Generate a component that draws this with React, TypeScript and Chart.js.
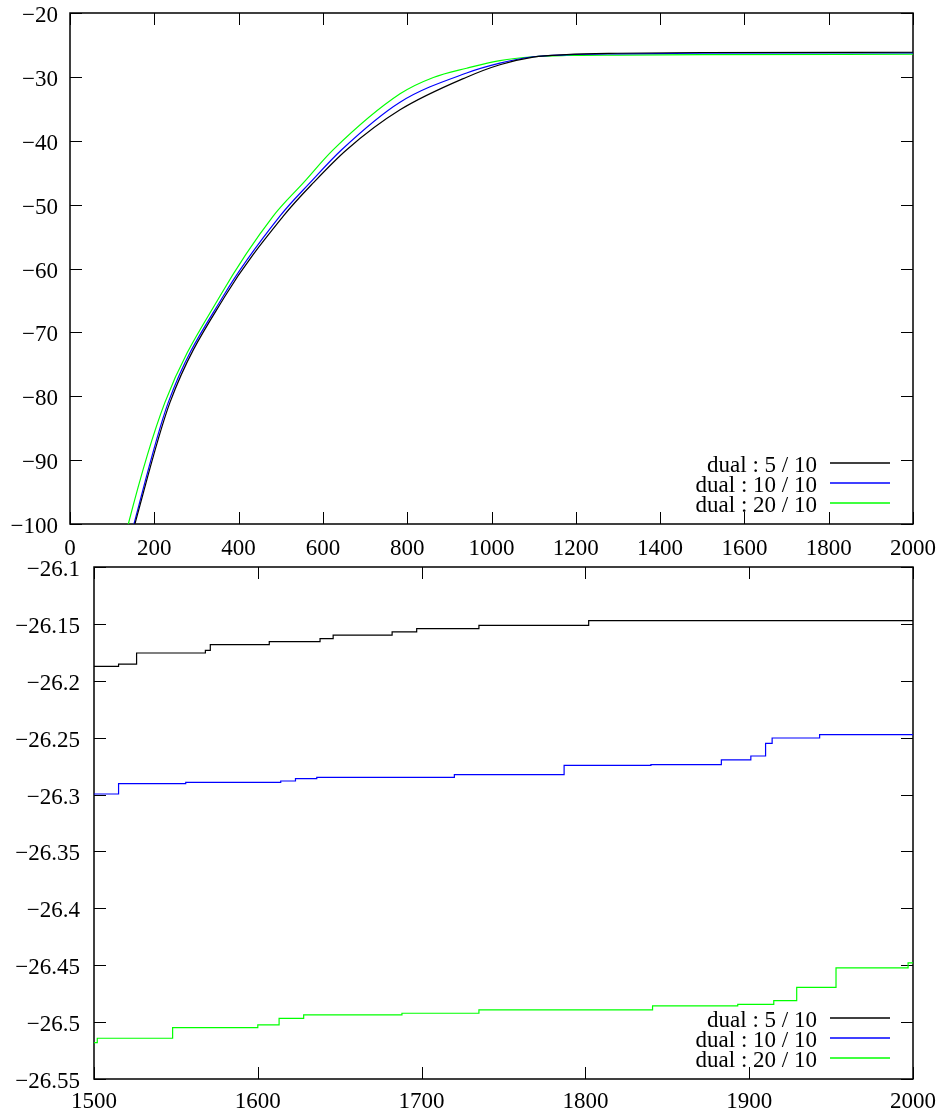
import { useEffect, useRef } from "react";
import { Chart, registerables } from "chart.js";

Chart.register(...registerables);

const FONT_FAMILY = "'Liberation Serif', 'Times New Roman', serif";
const FONT_SIZE = 23;

const seriesLabels = ["dual : 5 / 10", "dual : 10 / 10", "dual : 20 / 10"];
const seriesColors = ["#000000", "#0000ff", "#00ff00"];

// Full run (iterations 0..2000)
const fullX5 = [150, 154, 237, 368, 506, 577, 656.5, 783, 941, 1020, 1099, 1178, 1300, 1500, 2000];
const fullY5 = [-101, -100, -81.0, -64.3, -51.8, -46.6, -41.4, -35.16, -30.05, -28.1, -26.9, -26.5, -26.3, -26.187, -26.147];

const fullX10 = [148, 151.8, 233, 363.8, 498, 569, 644.5, 783, 941, 1020, 1099, 1178, 1300, 1500, 2000];
const fullY10 = [-101, -100, -81.0, -64.3, -51.8, -46.6, -41.4, -33.96, -29.4, -27.86, -26.85, -26.55, -26.4, -26.3, -26.247];

const fullX20 = [135, 138.4, 225, 356, 482, 553.5, 624.7, 783, 862, 941, 1020, 1099, 1178, 1300, 1500, 2000];
const fullY20 = [-101, -100, -81.0, -64.3, -51.8, -46.6, -41.4, -32.66, -30.1, -28.65, -27.45, -26.85, -26.65, -26.58, -26.518, -26.448];

// Tail of the run (iterations 1500..2000), value changes at each x
const tailX5 = [1500, 1515, 1526, 1568, 1571, 1607, 1638, 1646, 1682, 1697, 1735, 1802, 2000];
const tailY5 = [-26.1873, -26.1853, -26.1756, -26.1732, -26.1683, -26.1656, -26.163, -26.1598, -26.1571, -26.1542, -26.1513, -26.1472, -26.1472];

const tailX10 = [1500, 1515, 1556, 1614, 1623, 1636, 1720, 1787, 1840, 1883, 1901, 1910, 1914, 1943, 2000];
const tailY10 = [-26.2995, -26.2904, -26.2893, -26.2881, -26.286, -26.2849, -26.2825, -26.2743, -26.2737, -26.2696, -26.2661, -26.255, -26.2503, -26.2474, -26.2474];

const tailX20 = [1500, 1502, 1548, 1600, 1613, 1628, 1688, 1735, 1841, 1893, 1915, 1929, 1953, 1997, 2000];
const tailY20 = [-26.5181, -26.5142, -26.5049, -26.5025, -26.4967, -26.4937, -26.4922, -26.4892, -26.4858, -26.4844, -26.4812, -26.4694, -26.4524, -26.448, -26.448];

const fullXTicks = [0, 200, 400, 600, 800, 1000, 1200, 1400, 1600, 1800, 2000];
const fullYTicks = [-100, -90, -80, -70, -60, -50, -40, -30, -20];
const tailXTicks = [1500, 1600, 1700, 1800, 1900, 2000];
const tailYTicks = [-26.55, -26.5, -26.45, -26.4, -26.35, -26.3, -26.25, -26.2, -26.15, -26.1];

const TICK_LEN = 12;

const fmt = (v: number) => String(Number(v.toFixed(2))).replace("-", "\u2212");

const pairs = (xs: number[], ys: number[]) => xs.map((x, i) => ({ x, y: ys[i] }));

const framePlugin = {
  id: "gnuFrame",
  beforeDatasetsDraw(chart: any) {
    const { ctx, chartArea: a, scales } = chart;
    ctx.save();
    ctx.strokeStyle = "#000";
    ctx.lineWidth = 1;
    ctx.beginPath();
    for (const t of scales.x.ticks) {
      const px = Math.round(scales.x.getPixelForValue(t.value)) + 0.5;
      ctx.moveTo(px, a.bottom);
      ctx.lineTo(px, a.bottom - TICK_LEN);
      ctx.moveTo(px, a.top);
      ctx.lineTo(px, a.top + TICK_LEN);
    }
    for (const t of scales.y.ticks) {
      const py = Math.round(scales.y.getPixelForValue(t.value)) + 0.5;
      ctx.moveTo(a.left, py);
      ctx.lineTo(a.left + TICK_LEN, py);
      ctx.moveTo(a.right, py);
      ctx.lineTo(a.right - TICK_LEN, py);
    }
    ctx.stroke();
    ctx.lineWidth = 1.5;
    ctx.strokeRect(a.left, a.top, a.right - a.left, a.bottom - a.top);
    ctx.restore();
  },
  afterDatasetsDraw(chart: any) {
    const { ctx, chartArea: a } = chart;
    const sets = chart.data.datasets;
    ctx.save();
    ctx.font = `${FONT_SIZE}px ${FONT_FAMILY}`;
    ctx.textAlign = "right";
    ctx.textBaseline = "middle";
    sets.forEach((ds: any, i: number) => {
      const y = Math.round(a.bottom - 21 - (sets.length - 1 - i) * 20);
      ctx.fillStyle = "#000";
      ctx.fillText(ds.label, a.right - 96, y + 3);
      ctx.strokeStyle = ds.borderColor;
      ctx.lineWidth = 1.5;
      ctx.beginPath();
      ctx.moveTo(a.right - 83, y);
      ctx.lineTo(a.right - 23, y);
      ctx.stroke();
    });
    ctx.restore();
  },
};

type PanelProps = {
  width: number;
  height: number;
  top: number;
  padTop: number;
  padRight: number;
  yWidth: number;
  xHeight: number;
  xTicks: number[];
  yTicks: number[];
  xLabelPad: number;
  yLabelPad: number;
  stepped: boolean;
  series: { x: number[]; y: number[] }[];
};

function Panel(p: PanelProps) {
  const ref = useRef<HTMLCanvasElement | null>(null);
  useEffect(() => {
    if (!ref.current) return;
    const font = { family: FONT_FAMILY, size: FONT_SIZE };
    const chart = new Chart(ref.current, {
      type: "line",
      data: {
        datasets: p.series.map((s, i) => ({
          label: seriesLabels[i],
          data: pairs(s.x, s.y),
          borderColor: seriesColors[i],
          backgroundColor: seriesColors[i],
          borderWidth: 1.2,
          pointRadius: 0,
          tension: 0,
          cubicInterpolationMode: p.stepped ? "default" : "monotone",
          stepped: p.stepped ? "before" : false,
          fill: false,
        })),
      },
      options: {
        animation: false,
        responsive: false,
        events: [],
        parsing: false,
        layout: { padding: { top: p.padTop, right: p.padRight, left: 0, bottom: 0 } },
        plugins: { legend: { display: false }, tooltip: { enabled: false } },
        scales: {
          x: {
            type: "linear",
            min: p.xTicks[0],
            max: p.xTicks[p.xTicks.length - 1],
            grid: { display: false, drawTicks: false },
            border: { display: false },
            afterBuildTicks: (s: any) => {
              s.ticks = p.xTicks.map((v) => ({ value: v }));
            },
            afterFit: (s: any) => {
              s.height = p.xHeight;
              s.paddingLeft = 0;
              s.paddingRight = 0;
            },
            ticks: {
              font,
              color: "#000",
              padding: p.xLabelPad,
              maxRotation: 0,
              autoSkip: false,
              callback: (v: any) => fmt(Number(v)),
            },
          },
          y: {
            type: "linear",
            min: p.yTicks[0],
            max: p.yTicks[p.yTicks.length - 1],
            grid: { display: false, drawTicks: false },
            border: { display: false },
            afterBuildTicks: (s: any) => {
              s.ticks = p.yTicks.map((v) => ({ value: v }));
            },
            afterFit: (s: any) => {
              s.width = p.yWidth;
              s.paddingTop = 0;
              s.paddingBottom = 0;
            },
            ticks: {
              font,
              color: "#000",
              padding: p.yLabelPad,
              labelOffset: 3,
              autoSkip: false,
              callback: (v: any) => fmt(Number(v)),
            },
          },
        },
      } as any,
      plugins: [framePlugin],
    });
    return () => chart.destroy();
  }, []);
  return (
    <canvas
      ref={ref}
      width={p.width}
      height={p.height}
      style={{ position: "absolute", left: 0, top: p.top, width: p.width, height: p.height }}
    />
  );
}

export default function App() {
  return (
    <div style={{ position: "absolute", left: 0, top: 0, width: 947, height: 1117, background: "#fff" }}>
      <Panel
        width={947}
        height={570}
        top={0}
        padTop={13}
        padRight={34}
        yWidth={70}
        xHeight={46}
        xTicks={fullXTicks}
        yTicks={fullYTicks}
        xLabelPad={11}
        yLabelPad={12}
        stepped={false}
        series={[
          { x: fullX5, y: fullY5 },
          { x: fullX10, y: fullY10 },
          { x: fullX20, y: fullY20 },
        ]}
      />
      <Panel
        width={947}
        height={587}
        top={530}
        padTop={37}
        padRight={34}
        yWidth={94}
        xHeight={38}
        xTicks={tailXTicks}
        yTicks={tailYTicks}
        xLabelPad={9}
        yLabelPad={14}
        stepped={true}
        series={[
          { x: tailX5, y: tailY5 },
          { x: tailX10, y: tailY10 },
          { x: tailX20, y: tailY20 },
        ]}
      />
    </div>
  );
}
